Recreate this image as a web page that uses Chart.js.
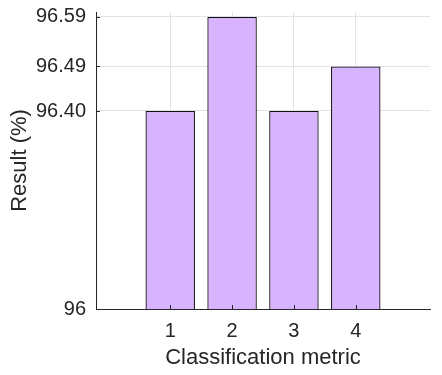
<!DOCTYPE html>
<html>
<head>
<meta charset="utf-8">
<script src="https://cdn.jsdelivr.net/npm/chart.js@4/dist/chart.umd.min.js"></script>
<style>
html,body{margin:0;padding:0;background:#fff;}
#wrap{width:442px;height:375px;}
</style>
</head>
<body>
<div id="wrap"><canvas id="c" width="442" height="375"></canvas></div>
<script>
const categories = [1, 2, 3, 4];
const results = [96.40, 96.59, 96.40, 96.49];
const yTickValues = [96, 96.40, 96.49, 96.59];
const yTickLabels = ['96', '96.40', '96.49', '96.59'];
const xTickLabels = ['1', '2', '3', '4'];

const FONT = "'Liberation Sans', Arial, Helvetica, sans-serif";
const AXIS = '#262626';
const GRID = '#e3e3e3';

const inwardTicks = {
  id: 'inwardTicks',
  afterDatasetsDraw(chart) {
    const {ctx, chartArea, scales: {x, y}} = chart;
    ctx.save();
    ctx.strokeStyle = AXIS;
    ctx.lineWidth = 1;
    ctx.beginPath();
    y.ticks.forEach(t => {
      const py = Math.round(y.getPixelForValue(t.value)) + 0.5;
      ctx.moveTo(chartArea.left, py);
      ctx.lineTo(chartArea.left + 4, py);
    });
    x.ticks.forEach(t => {
      const px = Math.round(x.getPixelForValue(t.value)) + 0.5;
      ctx.moveTo(px, chartArea.bottom);
      ctx.lineTo(px, chartArea.bottom - 4);
    });
    ctx.stroke();
    ctx.restore();
  }
};

new Chart(document.getElementById('c'), {
  type: 'bar',
  data: {
    datasets: [{
      data: categories.map((c, i) => ({x: c, y: results[i]})),
      backgroundColor: '#d8b4fe',
      borderColor: '#140c1a',
      borderWidth: 1.3,
      categoryPercentage: 1,
      barPercentage: 0.8
    }]
  },
  options: {
    responsive: false,
    animation: false,
    devicePixelRatio: 1,
    layout: {padding: {top: 12, right: 12, left: 0, bottom: 0}},
    plugins: {legend: {display: false}, tooltip: {enabled: false}},
    scales: {
      x: {
        type: 'linear',
        min: -0.2,
        max: 5.2,
        offset: false,
        afterBuildTicks: s => { s.ticks = categories.map(v => ({value: v})); },
        afterFit: s => { s.height = 66; s.paddingLeft = 0; s.paddingRight = 0; },
        ticks: {
          color: AXIS,
          padding: 10,
          font: {family: FONT, size: 20},
          callback: (v, i) => xTickLabels[i]
        },
        grid: {color: GRID, drawTicks: false, offset: false},
        border: {color: AXIS, width: 1},
        title: {
          display: true,
          text: 'Classification metric',
          color: AXIS,
          font: {family: FONT, size: 22},
          padding: {top: 0, bottom: 4}
        }
      },
      y: {
        min: 96,
        max: 96.6,
        beginAtZero: false,
        afterBuildTicks: s => { s.ticks = yTickValues.map(v => ({value: v})); },
        afterFit: s => { s.width = 96; s.paddingTop = 0; s.paddingBottom = 0; },
        ticks: {
          color: AXIS,
          padding: 10,
          font: {family: FONT, size: 20},
          callback: (v, i) => yTickLabels[i]
        },
        grid: {color: GRID, drawTicks: false},
        border: {color: AXIS, width: 1},
        title: {
          display: true,
          text: 'Result (%)',
          color: AXIS,
          font: {family: FONT, size: 22},
          padding: {top: 7, bottom: 0}
        }
      }
    }
  },
  plugins: [inwardTicks]
});
</script>
</body>
</html>
